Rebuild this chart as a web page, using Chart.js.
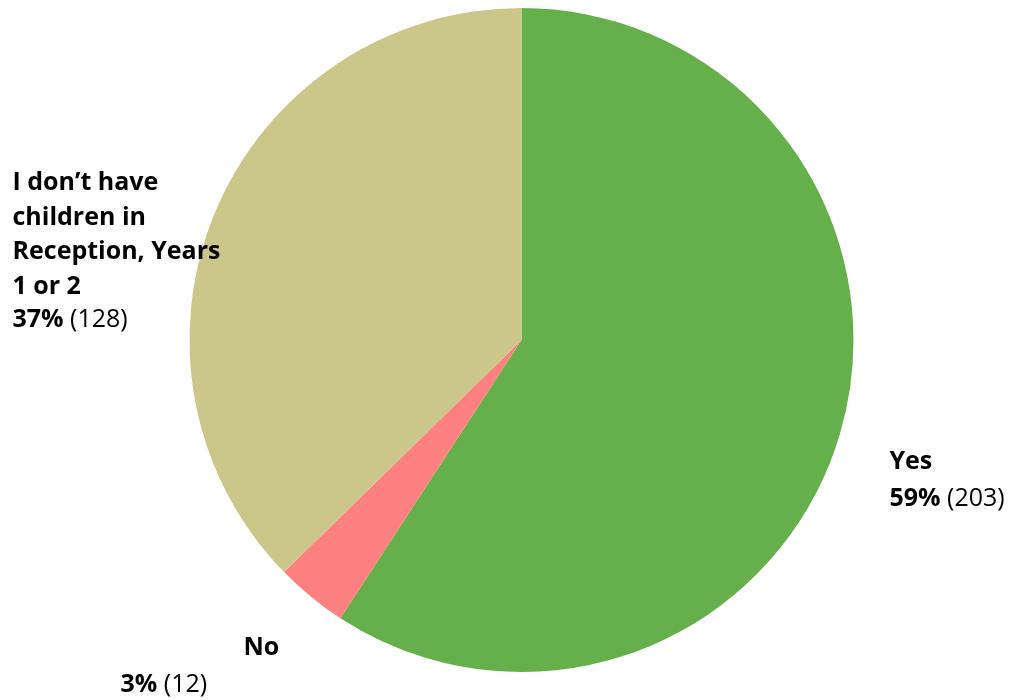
<!DOCTYPE html>
<html>
<head>
<meta charset="utf-8">
<script src="https://cdn.jsdelivr.net/npm/chart.js@4/dist/chart.umd.min.js"></script>
<style>
  html, body { margin: 0; padding: 0; background: #fff; }
  #wrap { width: 1022px; height: 700px; }
</style>
</head>
<body>
<div id="wrap"><canvas id="chart"></canvas></div>
<script>
const categories = ['Yes', 'No', 'I don\u2019t have children in Reception, Years 1 or 2']
const counts = [203, 12, 128]
const percents = ['59%', '3%', '37%']
const colours = ['#65B04B', '#FF8080', '#CBC689']

// label text lines (wrapped like the original) and offsets from the pie centre
const labelLines = [['Yes'], ['No'], ['I don\u2019t have', 'children in', 'Reception, Years', '1 or 2']]
const labelSpots = [
    { name: [368, 129], value: [368, 166] },
    { name: [-278, 315], value: [-401, 352] },
    { name: [-509, -150], value: [-509, -13] }
]

const FONT = '"Open Sans", Lato, sans-serif'
const SIZE = 25

const pieLabels = {
    id: 'pieLabels',
    afterDraw(chart) {
        const ctx = chart.ctx
        const arcs = chart.getDatasetMeta(0).data
        ctx.save()
        ctx.fillStyle = '#000'
        ctx.textBaseline = 'alphabetic'
        ctx.textAlign = 'left'
        arcs.forEach((arc, i) => {
            const cx = arc.x, cy = arc.y
            const spot = labelSpots[i]
            ctx.font = 'bold ' + SIZE + 'px ' + FONT
            labelLines[i].forEach((line, k) => {
                ctx.fillText(line, cx + spot.name[0], cy + spot.name[1] + k * 34.5)
            })
            const vx = cx + spot.value[0], vy = cy + spot.value[1]
            const pct = percents[i]
            ctx.fillText(pct, vx, vy)
            const w = ctx.measureText(pct + ' ').width
            ctx.font = SIZE + 'px ' + FONT
            ctx.fillText('(' + counts[i] + ')', vx + w, vy)
        })
        ctx.restore()
    }
}

new Chart(document.getElementById('chart'), {
    type: 'pie',
    data: {
        labels: categories,
        datasets: [{
            data: counts,
            backgroundColor: colours,
            borderWidth: 0
        }]
    },
    options: {
        responsive: true,
        maintainAspectRatio: false,
        animation: false,
        layout: { padding: { top: 8, bottom: 28, left: 21, right: 0 } },
        plugins: {
            legend: { display: false },
            tooltip: { enabled: false }
        }
    },
    plugins: [pieLabels]
})
</script>
</body>
</html>
